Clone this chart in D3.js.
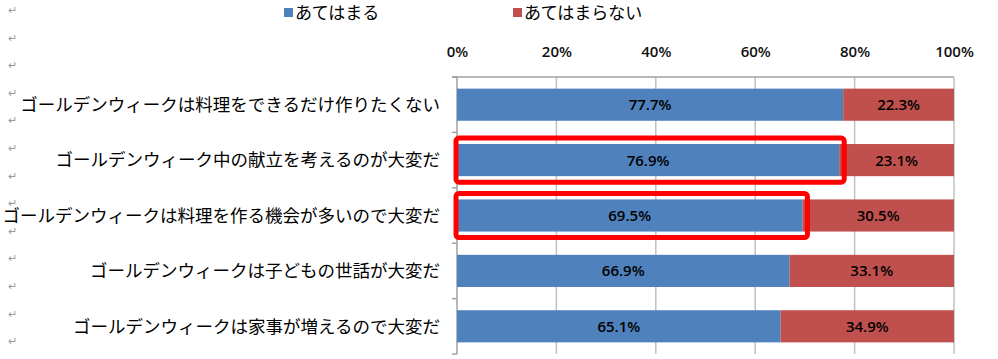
<!DOCTYPE html>
<html><head><meta charset="utf-8">
<script src="https://cdn.jsdelivr.net/npm/d3@7/dist/d3.min.js"></script>
<style>
body{margin:0;background:#fff;}
svg{display:block;font-family:"Noto Sans CJK JP","Noto Sans",sans-serif;}
</style></head>
<body><svg id="c" width="998" height="359"></svg>
<script>
const categories = [
  "ゴールデンウィークは料理をできるだけ作りたくない",
  "ゴールデンウィーク中の献立を考えるのが大変だ",
  "ゴールデンウィークは料理を作る機会が多いので大変だ",
  "ゴールデンウィークは子どもの世話が大変だ",
  "ゴールデンウィークは家事が増えるので大変だ"
];
const seriesNames = ["あてはまる", "あてはまらない"];
const yesValues = [77.7, 76.9, 69.5, 66.9, 65.1];
const noValues  = [22.3, 23.1, 30.5, 33.1, 34.9];
const tickValues = [0, 20, 40, 60, 80, 100];
const highlighted = [1, 2];
const colors = ["#4f81bd", "#c0504d"];

const svg = d3.select("#c");
const m = {left: 457, right: 954, top: 77, bottom: 354};
const x = d3.scaleLinear().domain([0, 100]).range([m.left, m.right]);
const y = d3.scaleBand().domain(categories).range([m.top, m.bottom]).paddingInner(0.42).paddingOuter(0.21);
const numFont = "'Open Sans', 'Liberation Sans', Arial, sans-serif";

// Word return marks on left margin
const marks = d3.range(0, 14);
svg.append("g").selectAll("text").data(marks).join("text")
  .attr("x", 8).attr("y", d => 14 + d * 27.6)
  .attr("font-size", 11).attr("fill", "#999").text("↵");

// gridlines
svg.append("g").selectAll("line").data(tickValues.slice(1)).join("line")
  .attr("x1", d => x(d)).attr("x2", d => x(d))
  .attr("y1", m.top).attr("y2", m.bottom)
  .attr("stroke", "#c0c0c0").attr("stroke-width", 1.5);

// top axis
const xAxis = d3.axisTop(x).tickValues(tickValues).tickFormat(d => d + "%").tickSize(0).tickPadding(20);
const gx = svg.append("g").attr("transform", `translate(0,${m.top})`).call(xAxis);
gx.select(".domain").remove();
gx.selectAll("text").attr("font-size", 15).attr("font-weight", 600).attr("fill", "#111")
  .attr("font-family", numFont);
svg.append("line").attr("x1", m.left - 5).attr("x2", m.right).attr("y1", m.top).attr("y2", m.top)
  .attr("stroke", "#a0a0a0").attr("stroke-width", 1.5);

// left axis line + ticks at band boundaries
svg.append("line").attr("x1", m.left).attr("x2", m.left).attr("y1", m.top).attr("y2", m.bottom)
  .attr("stroke", "#a0a0a0").attr("stroke-width", 1.5);
const step = (m.bottom - m.top) / categories.length;
svg.append("g").selectAll("line").data(d3.range(0, categories.length + 1)).join("line")
  .attr("x1", m.left - 5).attr("x2", m.left)
  .attr("y1", d => m.top + d * step).attr("y2", d => m.top + d * step)
  .attr("stroke", "#a0a0a0").attr("stroke-width", 1.5);

// bars
const rows = categories.map((c, i) => ({c, yes: yesValues[i], no: noValues[i], i}));
const g = svg.append("g");
g.selectAll("rect.yes").data(rows).join("rect").attr("class", "yes")
  .attr("x", x(0)).attr("y", d => y(d.c)).attr("height", y.bandwidth())
  .attr("width", d => x(d.yes) - x(0)).attr("fill", colors[0]);
g.selectAll("rect.no").data(rows).join("rect").attr("class", "no")
  .attr("x", d => x(d.yes)).attr("y", d => y(d.c)).attr("height", y.bandwidth())
  .attr("width", d => x(d.yes + d.no) - x(d.yes)).attr("fill", colors[1]);

// data labels
g.selectAll("text.ly").data(rows).join("text")
  .attr("x", d => x(d.yes / 2)).attr("y", d => y(d.c) + y.bandwidth() / 2)
  .attr("dy", "0.36em").attr("text-anchor", "middle")
  .attr("font-size", 15).attr("font-weight", 600).attr("font-family", numFont).attr("fill", "#000")
  .text(d => d.yes.toFixed(1) + "%");
g.selectAll("text.ln").data(rows).join("text")
  .attr("x", d => x(d.yes + d.no / 2)).attr("y", d => y(d.c) + y.bandwidth() / 2)
  .attr("dy", "0.36em").attr("text-anchor", "middle")
  .attr("font-size", 15).attr("font-weight", 600).attr("font-family", numFont).attr("fill", "#000")
  .text(d => d.no.toFixed(1) + "%");

// category labels
svg.append("g").selectAll("text").data(categories).join("text")
  .attr("x", 440).attr("y", d => y(d) + y.bandwidth() / 2).attr("dy", "0.36em")
  .attr("text-anchor", "end").attr("font-size", 17.5).attr("fill", "#000").text(d => d);

// highlight boxes
svg.append("g").selectAll("rect").data(highlighted.map(i => rows[i])).join("rect")
  .attr("x", x(0) - 1).attr("y", d => y(d.c) - 6)
  .attr("width", d => x(d.yes) - x(0) + 6).attr("height", y.bandwidth() + 12)
  .attr("rx", 3).attr("fill", "none").attr("stroke", "#ff0000").attr("stroke-width", 5);

// legend
const leg = svg.append("g");
const legX = [284, 513];
seriesNames.forEach((s, i) => {
  leg.append("rect").attr("x", legX[i]).attr("y", 8).attr("width", 9).attr("height", 9).attr("fill", colors[i]);
  leg.append("text").attr("x", legX[i] + 11).attr("y", 13).attr("dy", "0.36em")
    .attr("font-size", 17).attr("fill", "#000").text(s);
});
</script></body></html>
